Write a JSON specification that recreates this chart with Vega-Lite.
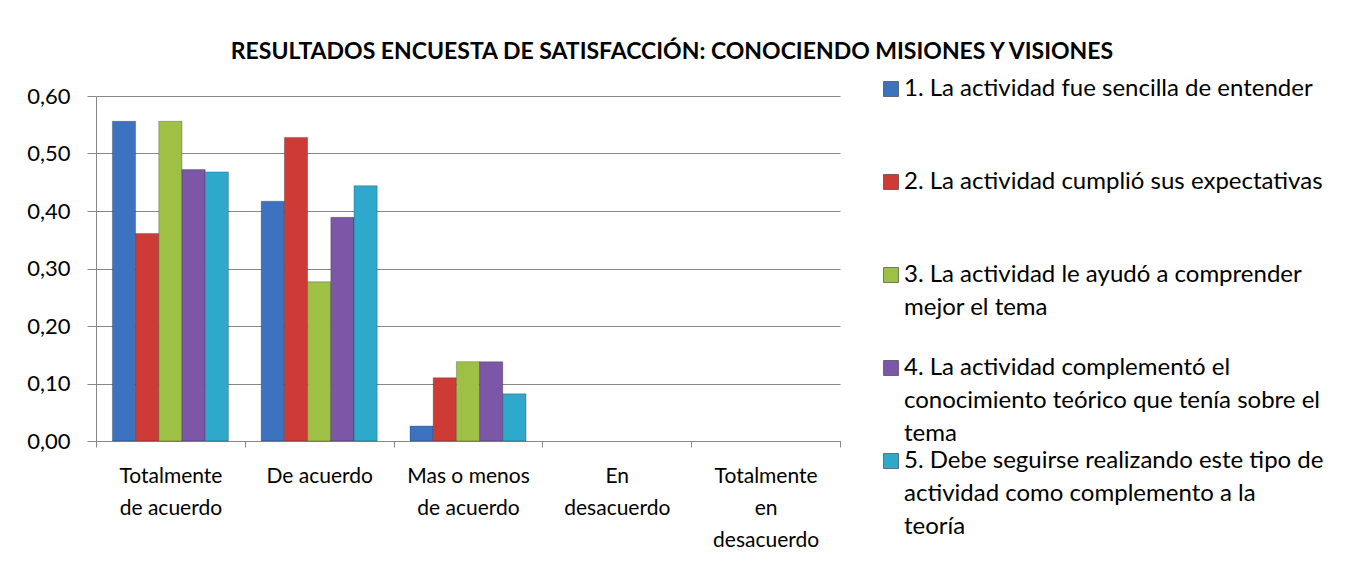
{
  "$schema": "https://vega.github.io/schema/vega-lite/v6.json",
  "autosize": {"type": "none"},
  "width": 744,
  "height": 345,
  "padding": {"left": 96, "top": 96, "right": 507, "bottom": 126},
  "background": "white",
  "title": {
    "text": "RESULTADOS ENCUESTA DE SATISFACCIÓN: CONOCIENDO MISIONES Y VISIONES",
    "font": "Lato",
    "fontSize": 23,
    "fontWeight": "bold",
    "color": "#000000",
    "anchor": "middle",
    "baseline": "alphabetic",
    "offset": 0,
    "dx": 204,
    "dy": 5
  },
  "data": {
    "values": [
      {"categoria": "Totalmente de acuerdo", "pregunta": "1. La actividad fue sencilla de entender", "valor": 0.556},
      {"categoria": "Totalmente de acuerdo", "pregunta": "2. La actividad cumplió sus expectativas", "valor": 0.361},
      {"categoria": "Totalmente de acuerdo", "pregunta": "3. La actividad le ayudó a comprender mejor el tema", "valor": 0.556},
      {"categoria": "Totalmente de acuerdo", "pregunta": "4. La actividad complementó el conocimiento teórico que tenía sobre el tema", "valor": 0.472},
      {"categoria": "Totalmente de acuerdo", "pregunta": "5. Debe seguirse realizando este tipo de actividad como complemento a la teoría", "valor": 0.468},
      {"categoria": "De acuerdo", "pregunta": "1. La actividad fue sencilla de entender", "valor": 0.417},
      {"categoria": "De acuerdo", "pregunta": "2. La actividad cumplió sus expectativas", "valor": 0.528},
      {"categoria": "De acuerdo", "pregunta": "3. La actividad le ayudó a comprender mejor el tema", "valor": 0.277},
      {"categoria": "De acuerdo", "pregunta": "4. La actividad complementó el conocimiento teórico que tenía sobre el tema", "valor": 0.389},
      {"categoria": "De acuerdo", "pregunta": "5. Debe seguirse realizando este tipo de actividad como complemento a la teoría", "valor": 0.444},
      {"categoria": "Mas o menos de acuerdo", "pregunta": "1. La actividad fue sencilla de entender", "valor": 0.026},
      {"categoria": "Mas o menos de acuerdo", "pregunta": "2. La actividad cumplió sus expectativas", "valor": 0.110},
      {"categoria": "Mas o menos de acuerdo", "pregunta": "3. La actividad le ayudó a comprender mejor el tema", "valor": 0.138},
      {"categoria": "Mas o menos de acuerdo", "pregunta": "4. La actividad complementó el conocimiento teórico que tenía sobre el tema", "valor": 0.138},
      {"categoria": "Mas o menos de acuerdo", "pregunta": "5. Debe seguirse realizando este tipo de actividad como complemento a la teoría", "valor": 0.082},
      {"categoria": "En desacuerdo", "pregunta": "1. La actividad fue sencilla de entender", "valor": 0},
      {"categoria": "En desacuerdo", "pregunta": "2. La actividad cumplió sus expectativas", "valor": 0},
      {"categoria": "En desacuerdo", "pregunta": "3. La actividad le ayudó a comprender mejor el tema", "valor": 0},
      {"categoria": "En desacuerdo", "pregunta": "4. La actividad complementó el conocimiento teórico que tenía sobre el tema", "valor": 0},
      {"categoria": "En desacuerdo", "pregunta": "5. Debe seguirse realizando este tipo de actividad como complemento a la teoría", "valor": 0},
      {"categoria": "Totalmente en desacuerdo", "pregunta": "1. La actividad fue sencilla de entender", "valor": 0},
      {"categoria": "Totalmente en desacuerdo", "pregunta": "2. La actividad cumplió sus expectativas", "valor": 0},
      {"categoria": "Totalmente en desacuerdo", "pregunta": "3. La actividad le ayudó a comprender mejor el tema", "valor": 0},
      {"categoria": "Totalmente en desacuerdo", "pregunta": "4. La actividad complementó el conocimiento teórico que tenía sobre el tema", "valor": 0},
      {"categoria": "Totalmente en desacuerdo", "pregunta": "5. Debe seguirse realizando este tipo de actividad como complemento a la teoría", "valor": 0}
    ]
  },
  "mark": {"type": "bar", "stroke": "#1a1a1a", "strokeWidth": 0.6},
  "encoding": {
    "x": {
      "field": "categoria",
      "type": "nominal",
      "sort": ["Totalmente de acuerdo", "De acuerdo", "Mas o menos de acuerdo", "En desacuerdo", "Totalmente en desacuerdo"],
      "scale": {"paddingInner": 0, "paddingOuter": 0},
      "axis": {
        "title": null,
        "labelAngle": 0,
        "tickBand": "extent",
        "domainColor": "#878787",
        "tickColor": "#878787",
        "tickSize": 6,
        "labelPadding": 18,
        "labelFont": "Lato",
        "labelFontSize": 21,
        "labelColor": "#000000",
        "labelBaseline": "top",
        "labelLineHeight": 32,
        "labelAlign": "center",
        "labelLimit": 200,
        "labelExpr": "datum.value == 'Totalmente de acuerdo' ? ['Totalmente', 'de acuerdo'] : datum.value == 'Mas o menos de acuerdo' ? ['Mas o menos', 'de acuerdo'] : datum.value == 'En desacuerdo' ? ['En', 'desacuerdo'] : datum.value == 'Totalmente en desacuerdo' ? ['Totalmente', 'en', 'desacuerdo'] : datum.label"
      }
    },
    "xOffset": {
      "field": "pregunta",
      "type": "nominal",
      "scale": {"paddingInner": 0, "paddingOuter": 0.707}
    },
    "y": {
      "field": "valor",
      "type": "quantitative",
      "scale": {"domain": [0, 0.6], "nice": false},
      "axis": {
        "title": null,
        "values": [0, 0.1, 0.2, 0.3, 0.4, 0.5, 0.6],
        "labelExpr": "replace(format(datum.value, '.2f'), '.', ',')",
        "grid": true,
        "gridColor": "#878787",
        "gridWidth": 1,
        "domainColor": "#878787",
        "tickColor": "#878787",
        "tickSize": 9,
        "labelPadding": 17,
        "labelFont": "Lato",
        "labelFontSize": 22,
        "labelColor": "#000000"
      }
    },
    "strokeOpacity": {
      "condition": {"test": "datum.valor > 0", "value": 0.45},
      "value": 0
    },
    "color": {
      "field": "pregunta",
      "type": "nominal",
      "scale": {"range": ["#3C72BF", "#CE3B37", "#9DC045", "#7C57A8", "#2EA9CB"]},
      "legend": {
        "title": null,
        "orient": "none",
        "legendX": 783,
        "legendY": -19,
        "padding": 0,
        "symbolType": "square",
        "symbolSize": 225,
        "symbolStrokeWidth": 0.6,
        "symbolStrokeColor": "#333333",
        "symbolOpacity": 1,
        "labelFont": "Lato",
        "labelFontSize": 24,
        "labelColor": "#000000",
        "labelOffset": 1,
        "labelLimit": 600,
        "labelBaseline": "middle",
        "gridAlign": "all",
        "rowPadding": 3,
        "encode": {"labels": {"update": {"lineHeight": {"value": 33}}}},
        "labelExpr": "slice(datum.label, 0, 1) == '3' ? ['3. La actividad le ayudó a comprender', 'mejor el tema'] : slice(datum.label, 0, 1) == '4' ? ['4. La actividad complementó el', 'conocimiento teórico que tenía sobre el', 'tema'] : slice(datum.label, 0, 1) == '5' ? ['5. Debe seguirse realizando este tipo de', 'actividad como complemento a la', 'teoría'] : datum.label"
      }
    }
  },
  "config": {
    "view": {"stroke": null}
  }
}
